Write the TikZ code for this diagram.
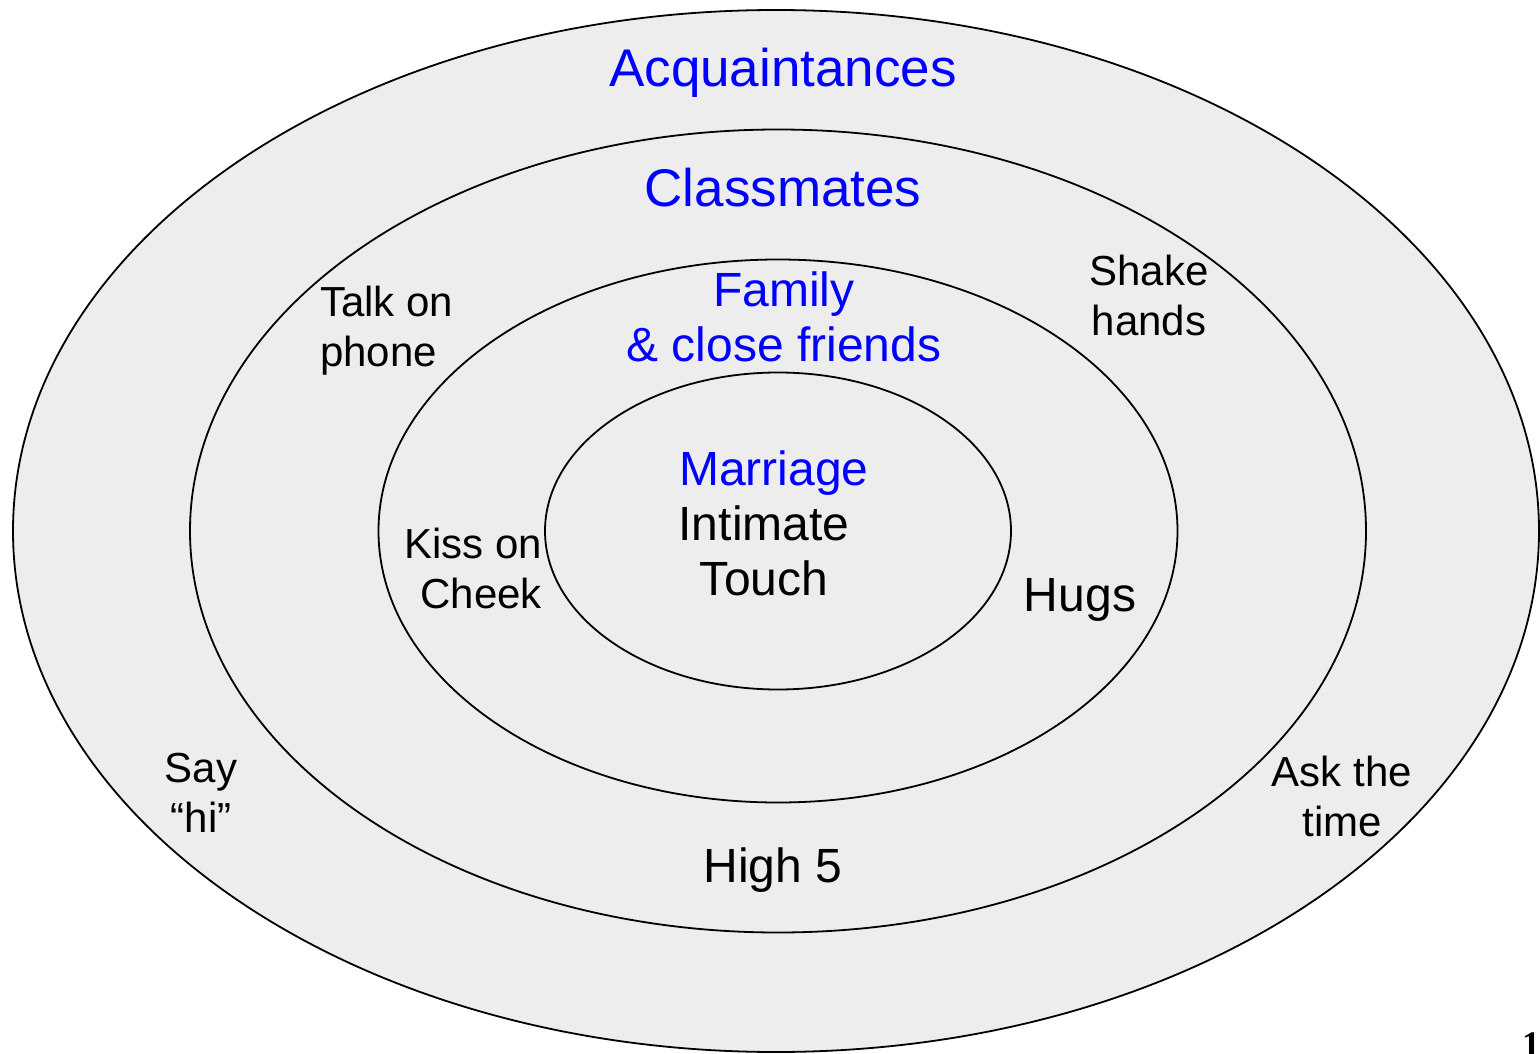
\documentclass[tikz,border=0pt]{standalone}
\usepackage{fontspec}
\setmainfont{Liberation Sans}
\newfontfamily\pagenumfont{Liberation Serif}
\usetikzlibrary{shapes.geometric}
\definecolor{ringfill}{HTML}{EDEDED}
\definecolor{lblblue}{HTML}{0000FF}
\begin{document}
\begin{tikzpicture}[x=1pt,y=-1pt,
  ring/.style={ellipse, draw=black, line width=1.8pt, fill=ringfill, inner sep=0pt, outer sep=0pt},
  bigblue/.style={font=\fontsize{53}{60}\selectfont, text=lblblue, inner sep=0pt},
  midblue/.style={font=\fontsize{48}{55}\selectfont, text=lblblue, inner sep=0pt},
  midtext/.style={font=\fontsize{48}{55}\selectfont, text=black, inner sep=0pt},
  smalltext/.style={font=\fontsize{42}{50}\selectfont, text=black, inner sep=0pt}]
\useasboundingbox (0,0) rectangle (1540,1054);
% rings
\node[ring, minimum width=1526pt, minimum height=1042pt] (acqring) at (776,531) {};
\node[ring, minimum width=1176pt, minimum height=803pt] (clsring) at (778,531) {};
\node[ring, minimum width=799pt, minimum height=543pt] (famring) at (778,531) {};
\node[ring, minimum width=466pt, minimum height=317pt] (marring) at (778,531) {};
% titles
\node[bigblue] (acq) at (783,73) {Acquaintances};
\node[bigblue] (cls) at (783,188) {Classmates};
\node[midblue, align=center] (fam) at (784,317) {Family\\\& close friends};
\node[midblue] (mar) at (774,473) {Marriage};
% touch labels
\node[midtext, align=center] (intim) at (764,551) {Intimate\\Touch};
\node[smalltext, align=right, anchor=east] (kiss) at (542,568) {Kiss on\\Cheek};
\node[midtext] (hugs) at (1080,600) {Hugs};
\node[smalltext, align=left, anchor=west] (talk) at (320,331) {Talk on\\phone};
\node[smalltext, align=center] (shake) at (1149,295) {Shake\\hands};
\node[smalltext, align=center] (say) at (201,793) {Say\\“hi”};
\node[smalltext, align=center] (ask) at (1342,796) {Ask the\\time};
\node[midtext] (high) at (773,870) {High 5};
% page number (cut off at the edge, as in the reference)
\node[font=\pagenumfont\bfseries\fontsize{36}{40}\selectfont, anchor=base west, inner sep=0pt] (pagenum) at (1522,1056) {1};
\end{tikzpicture}
\end{document}
